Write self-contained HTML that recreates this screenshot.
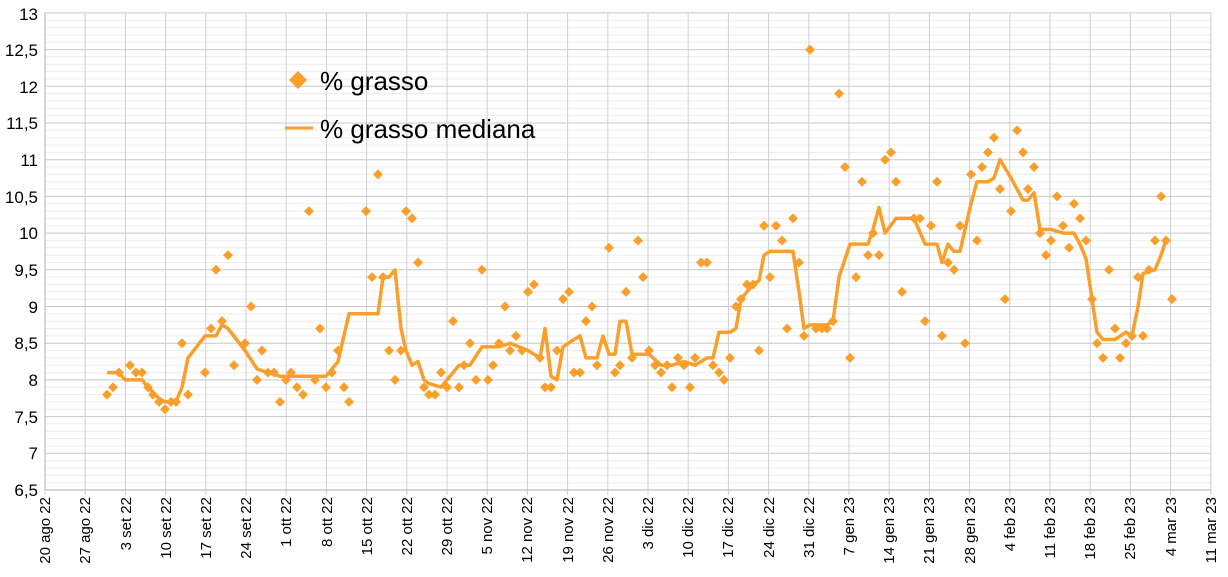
<!DOCTYPE html>
<html><head><meta charset="utf-8"><style>
html,body{margin:0;padding:0;background:#fff;}
svg{display:block;font-family:"Liberation Sans",Arial,sans-serif;}
</style></head><body>
<svg id="c" width="1228" height="577" viewBox="0 0 1228 577" xmlns="http://www.w3.org/2000/svg">
<g id="grid"></g>
<g font-size="17" fill="#000" text-anchor="end">
<text x="38" y="496">6,5</text><text x="38" y="459">7</text><text x="38" y="423">7,5</text><text x="38" y="386">8</text><text x="38" y="349">8,5</text><text x="38" y="313">9</text><text x="38" y="276">9,5</text><text x="38" y="239">10</text><text x="38" y="203">10,5</text><text x="38" y="166">11</text><text x="38" y="129">11,5</text><text x="38" y="93">12</text><text x="38" y="56">12,5</text><text x="38" y="20">13</text>
</g>
<g font-size="15" fill="#000" text-anchor="end">
<text transform="translate(50,497) rotate(-90)">20 ago 22</text>
<text transform="translate(90,497) rotate(-90)">27 ago 22</text>
<text transform="translate(131,497) rotate(-90)">3 set 22</text>
<text transform="translate(171,497) rotate(-90)">10 set 22</text>
<text transform="translate(211,497) rotate(-90)">17 set 22</text>
<text transform="translate(251,497) rotate(-90)">24 set 22</text>
<text transform="translate(291,497) rotate(-90)">1 ott 22</text>
<text transform="translate(332,497) rotate(-90)">8 ott 22</text>
<text transform="translate(372,497) rotate(-90)">15 ott 22</text>
<text transform="translate(412,497) rotate(-90)">22 ott 22</text>
<text transform="translate(452,497) rotate(-90)">29 ott 22</text>
<text transform="translate(492,497) rotate(-90)">5 nov 22</text>
<text transform="translate(532,497) rotate(-90)">12 nov 22</text>
<text transform="translate(573,497) rotate(-90)">19 nov 22</text>
<text transform="translate(613,497) rotate(-90)">26 nov 22</text>
<text transform="translate(653,497) rotate(-90)">3 dic 22</text>
<text transform="translate(693,497) rotate(-90)">10 dic 22</text>
<text transform="translate(733,497) rotate(-90)">17 dic 22</text>
<text transform="translate(774,497) rotate(-90)">24 dic 22</text>
<text transform="translate(814,497) rotate(-90)">31 dic 22</text>
<text transform="translate(854,497) rotate(-90)">7 gen 23</text>
<text transform="translate(894,497) rotate(-90)">14 gen 23</text>
<text transform="translate(934,497) rotate(-90)">21 gen 23</text>
<text transform="translate(975,497) rotate(-90)">28 gen 23</text>
<text transform="translate(1015,497) rotate(-90)">4 feb 23</text>
<text transform="translate(1055,497) rotate(-90)">11 feb 23</text>
<text transform="translate(1095,497) rotate(-90)">18 feb 23</text>
<text transform="translate(1135,497) rotate(-90)">25 feb 23</text>
<text transform="translate(1176,497) rotate(-90)">4 mar 23</text>
<text transform="translate(1216,497) rotate(-90)">11 mar 23</text>
</g>
<g id="data"></g>
<path d="M298,71 L307,80 L298,89 L289,80 Z" fill="#fb9f2c"/>
<text x="320" y="90" font-size="26">% grasso</text>
<line x1="285" y1="128" x2="313" y2="128" stroke="#fb9f2c" stroke-width="3"/>
<text x="320" y="138" font-size="26">% grasso mediana</text>
</svg>
<script>
var NS="http://www.w3.org/2000/svg";
function Y(v){return 490-(v-6.5)*73.4;}
var g=document.getElementById('grid'),s='';
for(var v=6.5;v<=13.001;v+=0.1){var y=Y(v).toFixed(1);var major=Math.abs(v*2-Math.round(v*2))<0.01;
s+='<line x1="45" x2="1211" y1="'+y+'" y2="'+y+'" stroke="'+(major?'#c8c8c8':'#ececec')+'" stroke-width="1"/>';}
for(var w=0;w<=29;w++){var x=(45+40.2*w).toFixed(1);s+='<line x1="'+x+'" x2="'+x+'" y1="13" y2="495" stroke="#cfcfcf" stroke-width="1"/>';}
s+='<line x1="45" x2="1211" y1="490" y2="490" stroke="#b0b0b0"/><line x1="45" x2="45" y1="13" y2="490" stroke="#b0b0b0"/>';
g.innerHTML=s;
var P=[[107,7.8],[113,7.9],[119,8.1],[130,8.2],[136,8.1],[142,8.1],[148,7.9],[153,7.8],[159,7.7],[165,7.6],[171,7.7],[176,7.7],[182,8.5],[188,7.8],[205,8.1],[211,8.7],[216,9.5],[222,8.8],[228,9.7],[234,8.2],[245,8.5],[251,9.0],[257,8.0],[262,8.4],[268,8.1],[274,8.1],[280,7.7],[286,8.0],[291,8.1],[297,7.9],[303,7.8],[309,10.3],[315,8.0],[320,8.7],[326,7.9],[332,8.1],[338,8.4],[344,7.9],[349,7.7],[366,10.3],[372,9.4],[378,10.8],[383,9.4],[389,8.4],[395,8.0],[401,8.4],[406,10.3],[412,10.2],[418,9.6],[424,7.9],[429,7.8],[435,7.8],[441,8.1],[447,7.9],[453,8.8],[459,7.9],[464,8.2],[470,8.5],[476,8.0],[482,9.5],[488,8.0],[493,8.2],[499,8.5],[505,9.0],[510,8.4],[516,8.6],[522,8.4],[528,9.2],[534,9.3],[540,8.3],[545,7.9],[551,7.9],[557,8.4],[563,9.1],[569,9.2],[574,8.1],[580,8.1],[586,8.8],[592,9.0],[597,8.2],[609,9.8],[615,8.1],[620,8.2],[626,9.2],[632,8.3],[638,9.9],[643,9.4],[649,8.4],[655,8.2],[661,8.1],[667,8.2],[672,7.9],[678,8.3],[684,8.2],[690,7.9],[695,8.3],[701,9.6],[707,9.6],[713,8.2],[719,8.1],[724,8.0],[730,8.3],[736,9.0],[741,9.1],[747,9.3],[753,9.3],[759,8.4],[764,10.1],[770,9.4],[776,10.1],[782,9.9],[787,8.7],[793,10.2],[799,9.6],[804,8.6],[810,12.5],[816,8.7],[822,8.7],[827,8.7],[833,8.8],[839,11.9],[845,10.9],[850,8.3],[856,9.4],[862,10.7],[868,9.7],[873,10.0],[879,9.7],[885,11.0],[891,11.1],[896,10.7],[902,9.2],[914,10.2],[920,10.2],[925,8.8],[931,10.1],[937,10.7],[942,8.6],[948,9.6],[954,9.5],[960,10.1],[965,8.5],[971,10.8],[977,9.9],[982,10.9],[988,11.1],[994,11.3],[1000,10.6],[1005,9.1],[1011,10.3],[1017,11.4],[1023,11.1],[1028,10.6],[1034,10.9],[1040,10.0],[1046,9.7],[1051,9.9],[1057,10.5],[1063,10.1],[1069,9.8],[1074,10.4],[1080,10.2],[1086,9.9],[1092,9.1],[1097,8.5],[1103,8.3],[1109,9.5],[1115,8.7],[1120,8.3],[1126,8.5],[1132,8.6],[1138,9.4],[1143,8.6],[1149,9.5],[1155,9.9],[1161,10.5],[1166,9.9],[1172,9.1]];
var L=[[107,8.1],[119,8.1],[125,8.0],[142,8.0],[148,7.9],[159,7.75],[165,7.7],[176,7.7],[182,7.9],[188,8.3],[205,8.6],[216,8.6],[222,8.75],[228,8.7],[245,8.4],[257,8.15],[268,8.1],[280,8.05],[326,8.05],[338,8.25],[349,8.9],[378,8.9],[383,9.4],[389,9.4],[395,9.5],[401,8.7],[406,8.4],[412,8.2],[418,8.25],[424,8.0],[429,7.95],[441,7.9],[453,8.1],[459,8.2],[470,8.2],[482,8.45],[499,8.45],[510,8.5],[528,8.4],[540,8.3],[545,8.7],[551,8.05],[557,8.0],[563,8.45],[574,8.55],[580,8.6],[586,8.3],[597,8.3],[603,8.6],[609,8.35],[615,8.35],[620,8.8],[626,8.8],[632,8.35],[649,8.35],[661,8.2],[672,8.2],[684,8.25],[695,8.2],[707,8.3],[713,8.3],[719,8.65],[730,8.65],[736,8.7],[741,9.1],[753,9.3],[759,9.35],[764,9.7],[770,9.75],[793,9.75],[799,9.2],[804,8.7],[810,8.75],[827,8.75],[833,8.8],[839,9.4],[850,9.85],[868,9.85],[873,10.05],[879,10.35],[885,10.0],[896,10.2],[914,10.2],[925,9.85],[937,9.85],[942,9.6],[948,9.85],[954,9.75],[960,9.75],[971,10.4],[977,10.7],[988,10.7],[994,10.75],[1000,11.0],[1011,10.75],[1017,10.6],[1023,10.45],[1028,10.45],[1034,10.55],[1040,10.05],[1051,10.05],[1063,10.0],[1074,10.0],[1080,9.85],[1086,9.65],[1092,9.1],[1097,8.65],[1103,8.55],[1115,8.55],[1126,8.65],[1132,8.6],[1138,9.0],[1143,9.45],[1155,9.5],[1161,9.7],[1166,9.9]];
var d='';P.forEach(function(p){var x=p[0],y=Y(p[1]);d+='M'+x+','+(y-5)+'L'+(x+5)+','+y+'L'+x+','+(y+5)+'L'+(x-5)+','+y+'Z';});
var pl=L.map(function(p){return p[0]+','+Y(p[1]).toFixed(1);}).join(' ');
document.getElementById('data').innerHTML='<path d="'+d+'" fill="#fb9f2c"/><polyline points="'+pl+'" fill="none" stroke="#fb9f2c" stroke-width="3.5" stroke-linejoin="round"/>';
</script>
</body></html>
